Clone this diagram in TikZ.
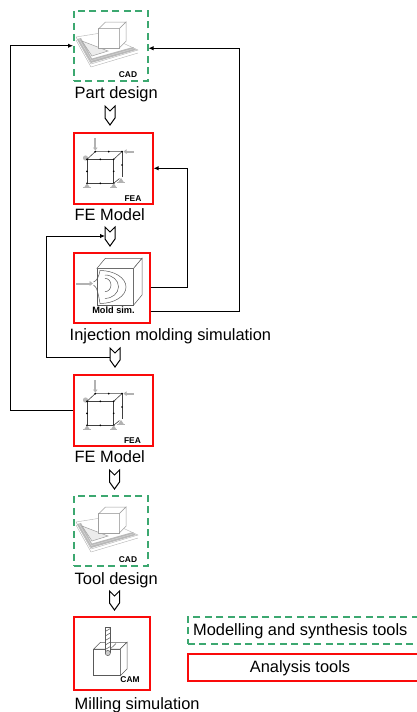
\documentclass[tikz,border=0pt]{standalone}
\usepackage{fontspec}
\setmainfont{Liberation Sans}
\usetikzlibrary{arrows.meta,calc}
\definecolor{cadgreen}{RGB}{60,168,112}
\definecolor{anared}{RGB}{250,10,10}
\begin{document}
\begin{tikzpicture}[x=1pt,y=-1pt,
  cadbox/.style={draw=cadgreen, line width=1.5pt, dash pattern=on 7pt off 4.5pt, inner sep=0pt, anchor=north west},
  anabox/.style={draw=anared, line width=1.6pt, inner sep=0pt, anchor=north west},
  lbl/.style={inner sep=0pt, anchor=base west, font=\fontsize{16.4}{19}\selectfont},
  tag/.style={inner sep=0pt, font=\fontsize{8.4}{10}\selectfont\bfseries},
  conn/.style={draw=black, line width=0.9pt, -{Latex[length=5pt,width=4.5pt]}},
  chev/.pic={\draw[black, line width=1pt, fill=white, line join=miter] (-5,0) -- (0,5) -- (5,0) -- (5,12) -- (0,19) -- (-5,12) -- cycle;},
  cadicon/.pic={
    \draw[gray!60, fill=white, line width=0.4pt] (3,27) -- (28,23) -- (65,40) -- (18,54) -- cycle;
    \draw[gray!60, line width=0.4pt] (3,30) -- (18,57) -- (65,43);
    \fill[gray!55] (4,29) -- (8,28) -- (19,48.5) -- (60,37) -- (63,40) -- (18,53) -- cycle;
    \draw[gray!25, line width=0.3pt] (6,29) -- (18.5,50.5) -- (61.5,38.5);
    \draw[gray!75, fill=gray!15, line width=0.5pt] (9,31) -- (35,41) -- (19,46) -- cycle;
    \begin{scope}[line width=0.5pt, color=gray!75]
      \draw[fill=white] (25.7,18.7) rectangle (46.3,38);
      \draw[fill=white] (25.7,18.7) -- (32.4,12) -- (53,12) -- (46.3,18.7) -- cycle;
      \draw[fill=white] (46.3,18.7) -- (53,12) -- (53,31.3) -- (46.3,38) -- cycle;
    \end{scope}
  },
  feaicon/.pic={
    \draw[gray!60, line width=1.8pt, -{Triangle[length=3pt,width=4.5pt]}] (22.3,6) -- (22.3,18.5);
    \draw[gray!60, line width=1.8pt, -{Triangle[length=3pt,width=4.5pt]}] (61,19.6) -- (50.5,19.6);
    \fill[gray!55] (12.5,26) circle (2.6);
    \begin{scope}[line width=0.6pt, color=black!75]
      \draw (14,27.3) rectangle (40.7,51.3);
      \draw (14,27.3) -- (22.3,19.6) -- (49,19.6) -- (40.7,27.3);
      \draw (49,19.6) -- (49,45);
      \draw (40.7,51.3) -- (46.5,46.5);
    \end{scope}
    \foreach \p in {(14,27.3),(27.3,27.3),(40.7,27.3),(14,39.3),(40.7,39.3),(14,51.3),(27.3,51.3),(40.7,51.3),(22.3,19.6),(35.7,19.6),(49,19.6),(49,33)}
      \fill[black] \p circle (0.95);
    \foreach \q in {(14,51.3),(40.7,51.3),(48,46)}{
      \fill[gray!60] \q -- ++(-2.6,3.8) -- ++(5.2,0) -- cycle;
      \draw[gray!60, line width=0.9pt] \q ++(-3.6,4.3) -- ++(7.2,0);
    }
  },
  moldicon/.pic={
    \begin{scope}[line width=0.5pt, color=gray!70!black]
      \draw[fill=white] (24,16.3) rectangle (60.7,53);
      \draw[fill=white] (24,16.3) -- (32.3,6.3) -- (69,6.3) -- (60.7,16.3) -- cycle;
      \draw[fill=white] (60.7,16.3) -- (69,6.3) -- (69,43) -- (60.7,53) -- cycle;
      \draw (27,18.5) arc[start angle=-90,end angle=90,x radius=26,y radius=16.5];
      \draw (32,23) arc[start angle=-90,end angle=90,x radius=13.5,y radius=11.7];
      \draw (32,26.3) arc[start angle=-90,end angle=90,x radius=6,y radius=6.7];
      \draw (20.5,30) .. controls (24,29) and (26,24) .. (27,18.5);
      \draw (20.5,33) .. controls (24,34) and (26,45) .. (27,51.5);
    \end{scope}
    \draw[gray!60, line width=2pt, -{Triangle[length=3.5pt,width=5pt]}] (3,31.5) -- (20,31.5);
  },
  camicon/.pic={
    \begin{scope}[line width=0.5pt, color=gray!70!black]
      \draw[fill=white] (20.7,33) rectangle (47.3,59.7);
      \draw[fill=white] (20.7,33) -- (27.4,26.3) -- (54,26.3) -- (47.3,33) -- cycle;
      \draw[fill=white] (47.3,33) -- (54,26.3) -- (54,53) -- (47.3,59.7) -- cycle;
      \draw (37.3,33) -- (43,27.5);
      \draw[fill=white] (32.3,11.3) rectangle (37.3,36);
      \foreach \yy in {14,18.5,23,27.5,32} \draw (32.3,\yy+1.5) -- (37.3,\yy-1.5);
      \draw[fill=gray!40] (34.8,37) circle (2.6);
    \end{scope}
  }
]
\useasboundingbox (0,0) rectangle (417,712);
\clip (0,0) rectangle (417,712);

% icons
\pic at (73,10) {cadicon};
\pic at (73,132) {feaicon};
\pic at (73,252) {moldicon};
\pic at (73,374) {feaicon};
\pic at (73,495) {cadicon};
\pic at (73,616) {camicon};

% boxes
\node[cadbox, minimum width=74pt, minimum height=70pt] (b1) at (73,10) {};
\node[anabox, minimum width=79pt, minimum height=71pt] (b2) at (73,132) {};
\node[anabox, minimum width=76pt, minimum height=70pt] (b3) at (73,252) {};
\node[anabox, minimum width=79pt, minimum height=71pt] (b4) at (73,374) {};
\node[cadbox, minimum width=74pt, minimum height=70pt] (b5) at (73,495) {};
\node[anabox, minimum width=76pt, minimum height=73pt] (b6) at (73,616) {};

% tags
\node[tag] (t1) at (128,75) {CAD};
\node[tag] (t2) at (133,198.5) {FEA};
\node[tag, font=\fontsize{9.2}{10}\selectfont\bfseries] (t3) at (113.5,310.5) {Mold sim.};
\node[tag] (t4) at (132.5,440.5) {FEA};
\node[tag] (t5) at (128,560) {CAD};
\node[tag] (t6) at (130,680) {CAM};

% labels
\node[lbl] (l1) at (74.5,98.5) {Part design};
\node[lbl] (l2) at (74.5,220) {FE Model};
\node[lbl] (l3) at (69.5,340.5) {Injection molding simulation};
\node[lbl] (l4) at (74.5,462.5) {FE Model};
\node[lbl] (l5) at (74.5,584) {Tool design};
\node[lbl] (l6) at (74.5,709) {Milling simulation};

% chevrons
\coordinate (c1) at (110,106);
\coordinate (c2) at (110,227);
\coordinate (c3) at (115,348);
\coordinate (c4) at (114.5,470);
\coordinate (c5) at (114.5,591);
\foreach \c in {c1,c2,c3,c4,c5} \pic at (\c) {chev};
\coordinate (c2w) at ($(c2)+(-5,9)$);
\coordinate (c3w) at ($(c3)+(-5,9)$);

% connectors
\draw[conn] (b4.west) -- ++(-63,0) |- (b1.west);
\draw[conn] ($(b3.south east)+(0,-12)$) -- ++(89,0) |- ($(b1.east)+(0,2.5)$);
\draw[conn] (b3.east) -- ++(37,0) |- (b2.east);
\draw[conn] (c3w) -- ++(-64,0) |- (c2w);

% legend
\node[cadbox, minimum width=240pt, minimum height=27pt] (g1) at (187,616) {};
\node[anabox, minimum width=240pt, minimum height=27pt] (g2) at (187,653) {};
\node[lbl] (g1t) at (193,635.5) {Modelling and synthesis tools};
\node[lbl, anchor=base] (g2t) at (300,672) {Analysis tools};
\end{tikzpicture}
\end{document}
